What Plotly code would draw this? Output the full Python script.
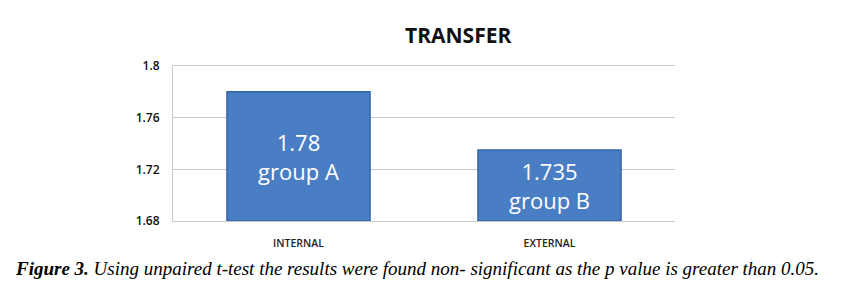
import plotly.graph_objects as go

categories = ["INTERNAL", "EXTERNAL"]
values = [1.78, 1.735]
groups = ["group A", "group B"]
y_ticks = [1.68, 1.72, 1.76, 1.8]
y_tick_labels = ["1.68", "1.72", "1.76", "1.8"]
axis_min, axis_max = 1.68, 1.8

L, R, T, B = 173, 169, 66, 70
W, H = 844, 291
pw, ph = W - L - R, H - T - B

def px_x(x):
    return (x - L) / pw

def px_y(y):
    return (H - B - y) / ph

labels = [f"{v:g}<br>{g}" for v, g in zip(values, groups)]

fig = go.Figure()
fig.add_trace(go.Bar(
    x=categories, y=[v - axis_min for v in values], base=axis_min,
    text=labels, textposition="inside", insidetextanchor="middle",
    textfont=dict(family="Open Sans", size=22, color="white"),
    constraintext="none",
    marker=dict(color="#4A7EC4", line=dict(color="#3566A6", width=1.5)),
    width=0.57, hoverinfo="skip",
))

fig.update_layout(
    width=W, height=H,
    margin=dict(l=L, r=R, t=T, b=B),
    paper_bgcolor="white", plot_bgcolor="white",
    showlegend=False,
    font=dict(family="Open Sans", color="#333"),
)
fig.update_yaxes(
    range=[axis_min, axis_max],
    tickvals=y_ticks, ticktext=y_tick_labels,
    tickfont=dict(family="Open Sans", size=12, color="#111", weight=600),
    showgrid=True, gridcolor="#C8C8C8", gridwidth=1,
    showline=True, linecolor="#C8C8C8", linewidth=1,
    zeroline=False, ticks="", ticklabelstandoff=10,
)
fig.update_xaxes(
    tickfont=dict(family="Open Sans", size=10.5, color="#222", weight=600),
    showline=True, linecolor="#C8C8C8", linewidth=1, mirror=True,
    ticks="", ticklabelstandoff=12,
)
fig.add_annotation(
    text="<b>TRANSFER</b>", xref="paper", yref="paper",
    x=px_x(458), y=px_y(35), xanchor="center", yanchor="middle",
    showarrow=False, font=dict(family="Open Sans", size=21, color="#111"),
)
fig.add_annotation(
    text="<b>Figure 3.</b> Using unpaired t-test the results were found non- significant as the p value is greater than 0.05.",
    xref="paper", yref="paper",
    x=px_x(13), y=px_y(268), xanchor="left", yanchor="middle",
    showarrow=False,
    font=dict(family="Liberation Serif", size=19, color="#000", style="italic"),
)
fig.write_html("out.html")
